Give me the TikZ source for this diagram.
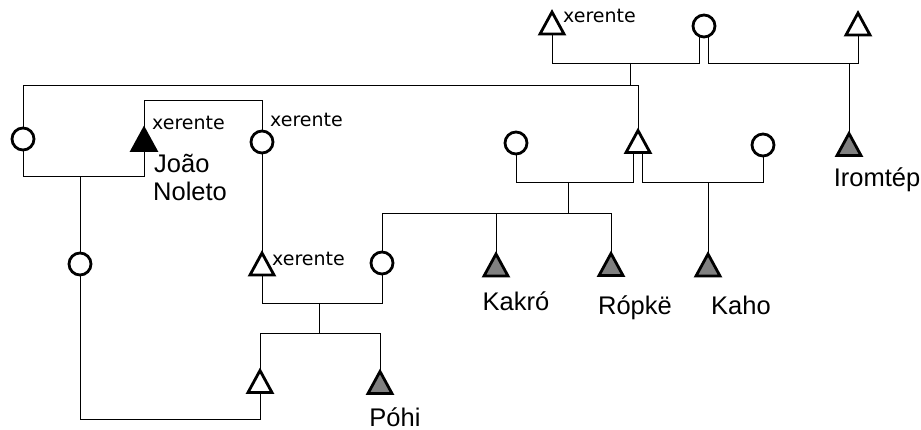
\documentclass[tikz,border=0pt]{standalone}
\usepackage{fontspec}
\setmainfont{Liberation Sans}
\newfontfamily\ethfont{DejaVu Sans}
\usetikzlibrary{calc,backgrounds}
\definecolor{kingray}{RGB}{128,128,128}

% triangle (male) drawn inside an invisible box node
\newcommand\kintri[4]{%
  \node[tribox] (#1) at (#2,#3) {};
  \draw[trishape, fill=#4] (#1.north) -- (#1.south east) -- (#1.south west) -- cycle;}

\tikzset{
  kinline/.style={line width=2.8pt, line cap=butt, line join=miter},
  tribox/.style={rectangle, draw=none, minimum width=24pt, minimum height=22pt,
                 inner sep=0pt, outer sep=0pt},
  trishape/.style={line width=2.8pt, line join=miter},
  circ/.style={circle, draw, fill=white, line width=2.8pt, minimum size=22pt,
               inner sep=0pt, outer sep=0pt},
  pname/.style={inner sep=0pt, font=\fontsize{25.5}{28}\selectfont},
  ethn/.style={inner sep=0pt, anchor=base west, font=\ethfont\fontsize{19}{22}\selectfont},
}

\begin{document}
\begin{tikzpicture}[x=1pt,y=-1pt]
\useasboundingbox (0,0) rectangle (921,430);

% ---- individuals ----
\kintri{t1}{552}{23}{white}
\node[circ] (c1) at (704,26) {};
\kintri{t2}{858}{24}{white}
\kintri{ir}{849}{144.5}{kingray}
\node[circ] (cl) at (23,139) {};
\kintri{joao}{144}{139.5}{black}
\node[circ] (c5) at (262,142) {};
\kintri{t3}{638}{141.5}{white}
\node[circ] (c2) at (516,143) {};
\node[circ] (c3) at (763,145) {};
\kintri{kak}{496}{265}{kingray}
\kintri{rop}{611}{264.5}{kingray}
\kintri{kaho}{708}{265}{kingray}
\node[circ] (c4) at (382,263) {};
\kintri{t4}{262}{264}{white}
\node[circ] (c6) at (80,264) {};
\kintri{pohi}{380}{382.5}{kingray}
\kintri{t5}{260}{381.5}{white}

% ---- labels ----
\node[ethn] (x1) at (563,23) {xerente};
\node[ethn] (x2) at (152,130) {xerente};
\node[ethn] (x3) at (270,127) {xerente};
\node[ethn] (x4) at (272,266) {xerente};
\node[pname, anchor=base west] (jn1) at (154,173) {João};
\node[pname, anchor=base west] (jn2) at (153,201) {Noleto};
\node[pname, anchor=base] (lkak) at (516,311) {Kakró};
\node[pname, anchor=base] (lrop) at (635,315) {Rópkë};
\node[pname, anchor=base] (lkaho) at (741,315) {Kaho};
\node[pname, anchor=base] (lir) at (877,187) {Iromtép};
\node[pname, anchor=base] (lpohi) at (395,426) {Póhi};

% ---- line levels and junctions ----
\coordinate (yA) at (0,63);
\coordinate (yB) at (0,85);
\coordinate (yC) at (0,100);
\coordinate (yD) at (0,176);
\coordinate (yE) at (0,182);
\coordinate (yF) at (0,213);
\coordinate (yG) at (0,303);
\coordinate (yH) at (0,333);
\coordinate (yI) at (0,419);
\coordinate (c1l) at ($(c1.center)+(-4.5,0)$);
\coordinate (c1r) at ($(c1.center)+(4.5,0)$);
\coordinate (t3l) at ($(t3.south)+(-4.5,0)$);
\coordinate (t3r) at ($(t3.south)+(4.5,0)$);
\coordinate (d1) at (630,63);
\coordinate (d2) at (568,182);
\coordinate (d3) at (319,303);

% ---- connectors ----
\begin{scope}[on background layer, kinline]
  % marriages at the top
  \draw (t1.south) |- (c1l |- yA) -- (c1l);
  \draw (c1r) |- (t2.south |- yA) -- (t2.south);
  \draw (ir.north) -- (ir.north |- yA);
  \draw (d1) -- (d1 |- yB);
  % long line to the far-left woman
  \draw (cl.north) |- (t3.north |- yB) -- (t3.north);
  \draw (cl.south) |- (joao.south |- yD) -- (joao.south);
  \draw (c6.north) -- (c6.north |- yD);
  \draw (c6.south) |- (t5.south |- yI) -- (t5.south);
  % João Noleto and his wife
  \draw (joao.north) |- (c5.north |- yC) -- (c5.north);
  \draw (c5.south) -- (t4.north);
  % the two marriages of t3
  \draw (t3l) |- (c2.south |- yE) -- (c2.south);
  \draw (t3r) |- (c3.south |- yE) -- (c3.south);
  \draw (kaho.north) -- (kaho.north |- yE);
  \draw (d2) -- (d2 |- yF);
  \draw (c4.north) |- (rop.north |- yF) -- (rop.north);
  \draw (kak.north) -- (kak.north |- yF);
  % t4 and c4 with their children
  \draw (t4.south) |- (c4.south |- yG) -- (c4.south);
  \draw (d3) -- (d3 |- yH);
  \draw (t5.north) |- (pohi.north |- yH) -- (pohi.north);
\end{scope}
\end{tikzpicture}
\end{document}
